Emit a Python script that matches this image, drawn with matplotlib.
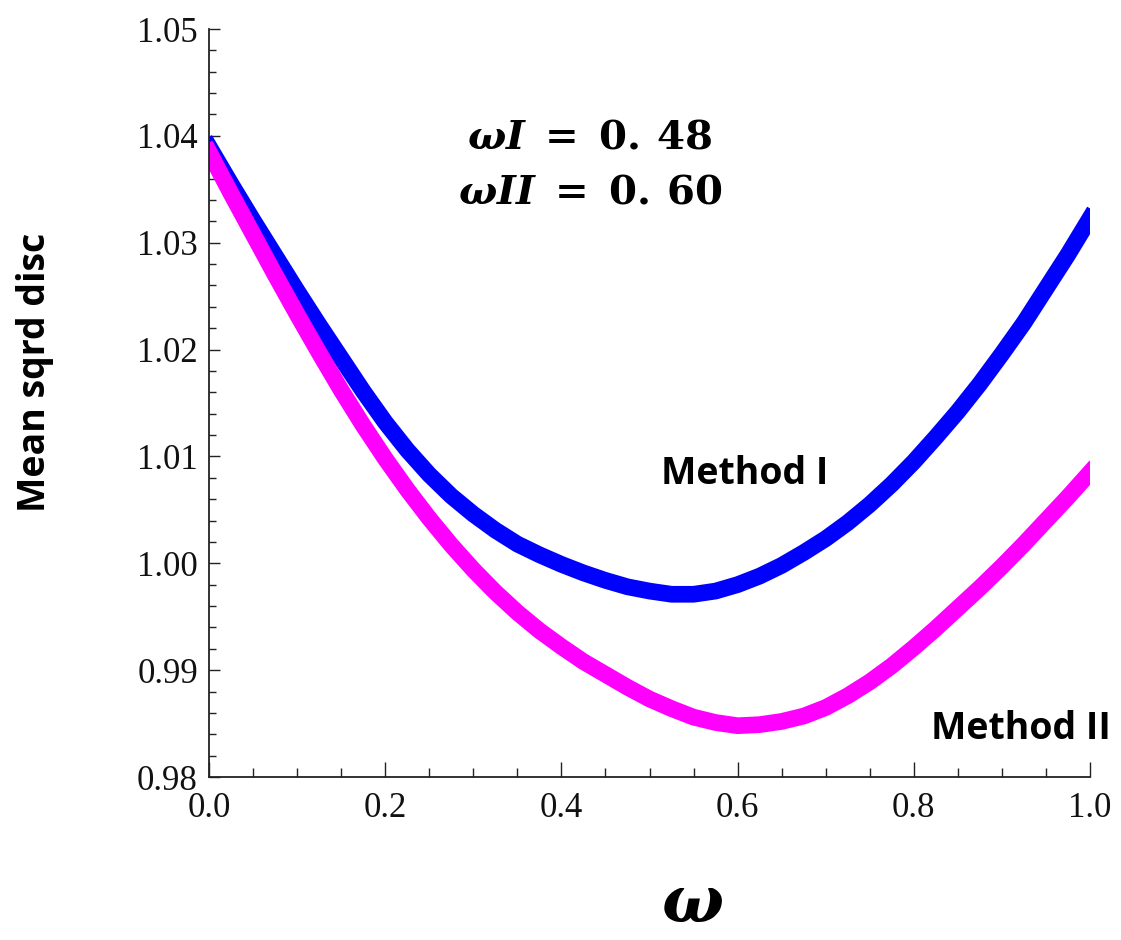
import numpy as np
import matplotlib
matplotlib.use("Agg")
import matplotlib.pyplot as plt
from matplotlib.ticker import MultipleLocator, FixedLocator

# Mean squared discrepancy against omega for the two methods
omega = [0.000, 0.025, 0.050, 0.075, 0.100, 0.125, 0.150, 0.175, 0.200,
         0.225, 0.250, 0.275, 0.300, 0.325, 0.350, 0.375, 0.400, 0.425,
         0.450, 0.475, 0.500, 0.525, 0.550, 0.575, 0.600, 0.625, 0.650,
         0.675, 0.700, 0.725, 0.750, 0.775, 0.800, 0.825, 0.850, 0.875,
         0.900, 0.925, 0.950, 0.975, 1.000]
method_1 = [1.0390, 1.0355, 1.0321, 1.0288, 1.0255, 1.0223, 1.0192, 1.0161,
            1.0132, 1.0106, 1.0083, 1.0063, 1.0046, 1.0031, 1.0018, 1.0008,
            0.9999, 0.9991, 0.9984, 0.9978, 0.9974, 0.9971, 0.9971, 0.9974,
            0.9980, 0.9988, 0.9998, 1.0010, 1.0023, 1.0038, 1.0055, 1.0074,
            1.0095, 1.0118, 1.0142, 1.0168, 1.0196, 1.0225, 1.0257, 1.0289,
            1.0323]
method_2 = [1.0385, 1.0346, 1.0308, 1.0270, 1.0233, 1.0197, 1.0162, 1.0129,
            1.0098, 1.0069, 1.0042, 1.0017, 0.9994, 0.9973, 0.9954, 0.9937,
            0.9922, 0.9908, 0.9896, 0.9884, 0.9873, 0.9864, 0.9856, 0.9851,
            0.9848, 0.9849, 0.9852, 0.9857, 0.9865, 0.9876, 0.9889, 0.9904,
            0.9921, 0.9939, 0.9958, 0.9977, 0.9997, 1.0018, 1.0040, 1.0062,
            1.0085]

x_ticks = [0.0, 0.2, 0.4, 0.6, 0.8, 1.0]
x_tick_labels = ["0.0", "0.2", "0.4", "0.6", "0.8", "1.0"]
y_ticks = [0.98, 0.99, 1.00, 1.01, 1.02, 1.03, 1.04, 1.05]
y_tick_labels = ["0.98", "0.99", "1.00", "1.01", "1.02", "1.03", "1.04", "1.05"]

omega_opt_1 = ("0.", "48")
omega_opt_2 = ("0.", "60")

plt.rcParams["mathtext.fontset"] = "custom"
plt.rcParams["mathtext.it"] = "DejaVu Serif:italic:bold"
plt.rcParams["mathtext.rm"] = "DejaVu Serif:bold"
plt.rcParams["mathtext.bf"] = "DejaVu Serif:bold"

W, H = 1121, 940
fig = plt.figure(figsize=(W / 100, H / 100), dpi=100)
ax = fig.add_axes([209 / W, 1 - 777 / H, (1090 - 209) / W, (777 - 29) / H])

ax.plot(omega, method_1, color="#0000FF", lw=12, solid_capstyle="projecting",
        solid_joinstyle="round")
ax.plot(omega, method_2, color="#FF00FF", lw=12, solid_capstyle="projecting",
        solid_joinstyle="round")

ax.set_xlim(0.0, 1.0)
ax.set_ylim(0.98, 1.05)

for side in ("top", "right"):
    ax.spines[side].set_visible(False)
for side in ("left", "bottom"):
    ax.spines[side].set_linewidth(1.3)
    ax.spines[side].set_color("#222222")

ax.xaxis.set_major_locator(FixedLocator(x_ticks))
ax.yaxis.set_major_locator(FixedLocator(y_ticks))
ax.xaxis.set_minor_locator(MultipleLocator(0.05))
ax.yaxis.set_minor_locator(MultipleLocator(0.002))
ax.set_xticklabels(x_tick_labels)
ax.set_yticklabels(y_tick_labels)

ax.tick_params(axis="x", which="major", direction="in", length=11, width=1.0,
               pad=11, color="#222222")
ax.tick_params(axis="x", which="minor", direction="in", length=6.5, width=1.0,
               color="#222222")
ax.tick_params(axis="y", which="major", direction="in", length=8, width=1.0,
               pad=8, color="#222222")
ax.tick_params(axis="y", which="minor", direction="in", length=5, width=1.0,
               color="#222222")

for lab in ax.get_xticklabels() + ax.get_yticklabels():
    lab.set_fontfamily("Liberation Serif")
    lab.set_fontsize(25)
    lab.set_color("#111111")

# Optimal omega values for each method
for yv, (a, b), sym in ((1.0398, omega_opt_1, "I"), (1.0347, omega_opt_2, "II")):
    ax.text(0.432, yv,
            r"$\omega " + sym + r"\; = \;\mathbf{" + a + r"\," + b + "}$",
            ha="center", va="center", fontsize=29)

ax.text(0.608, 1.0084, "Method I", ha="center", va="center",
        fontsize=27, fontweight="bold", fontfamily="Open Sans", clip_on=False)
ax.text(0.922, 0.98449, "Method II", ha="center", va="center",
        fontsize=27, fontweight="bold", fontfamily="Open Sans", clip_on=False)

fig.text(35 / W, 1 - 372 / H, "Mean sqrd disc", rotation=90, ha="center",
         va="center", fontsize=27, fontweight="bold", fontfamily="Open Sans")
fig.text(692 / W, 1 - 904 / H, r"$\omega$", ha="center", va="center",
         fontsize=47)

fig.savefig("out.png", dpi=100, facecolor="white")
